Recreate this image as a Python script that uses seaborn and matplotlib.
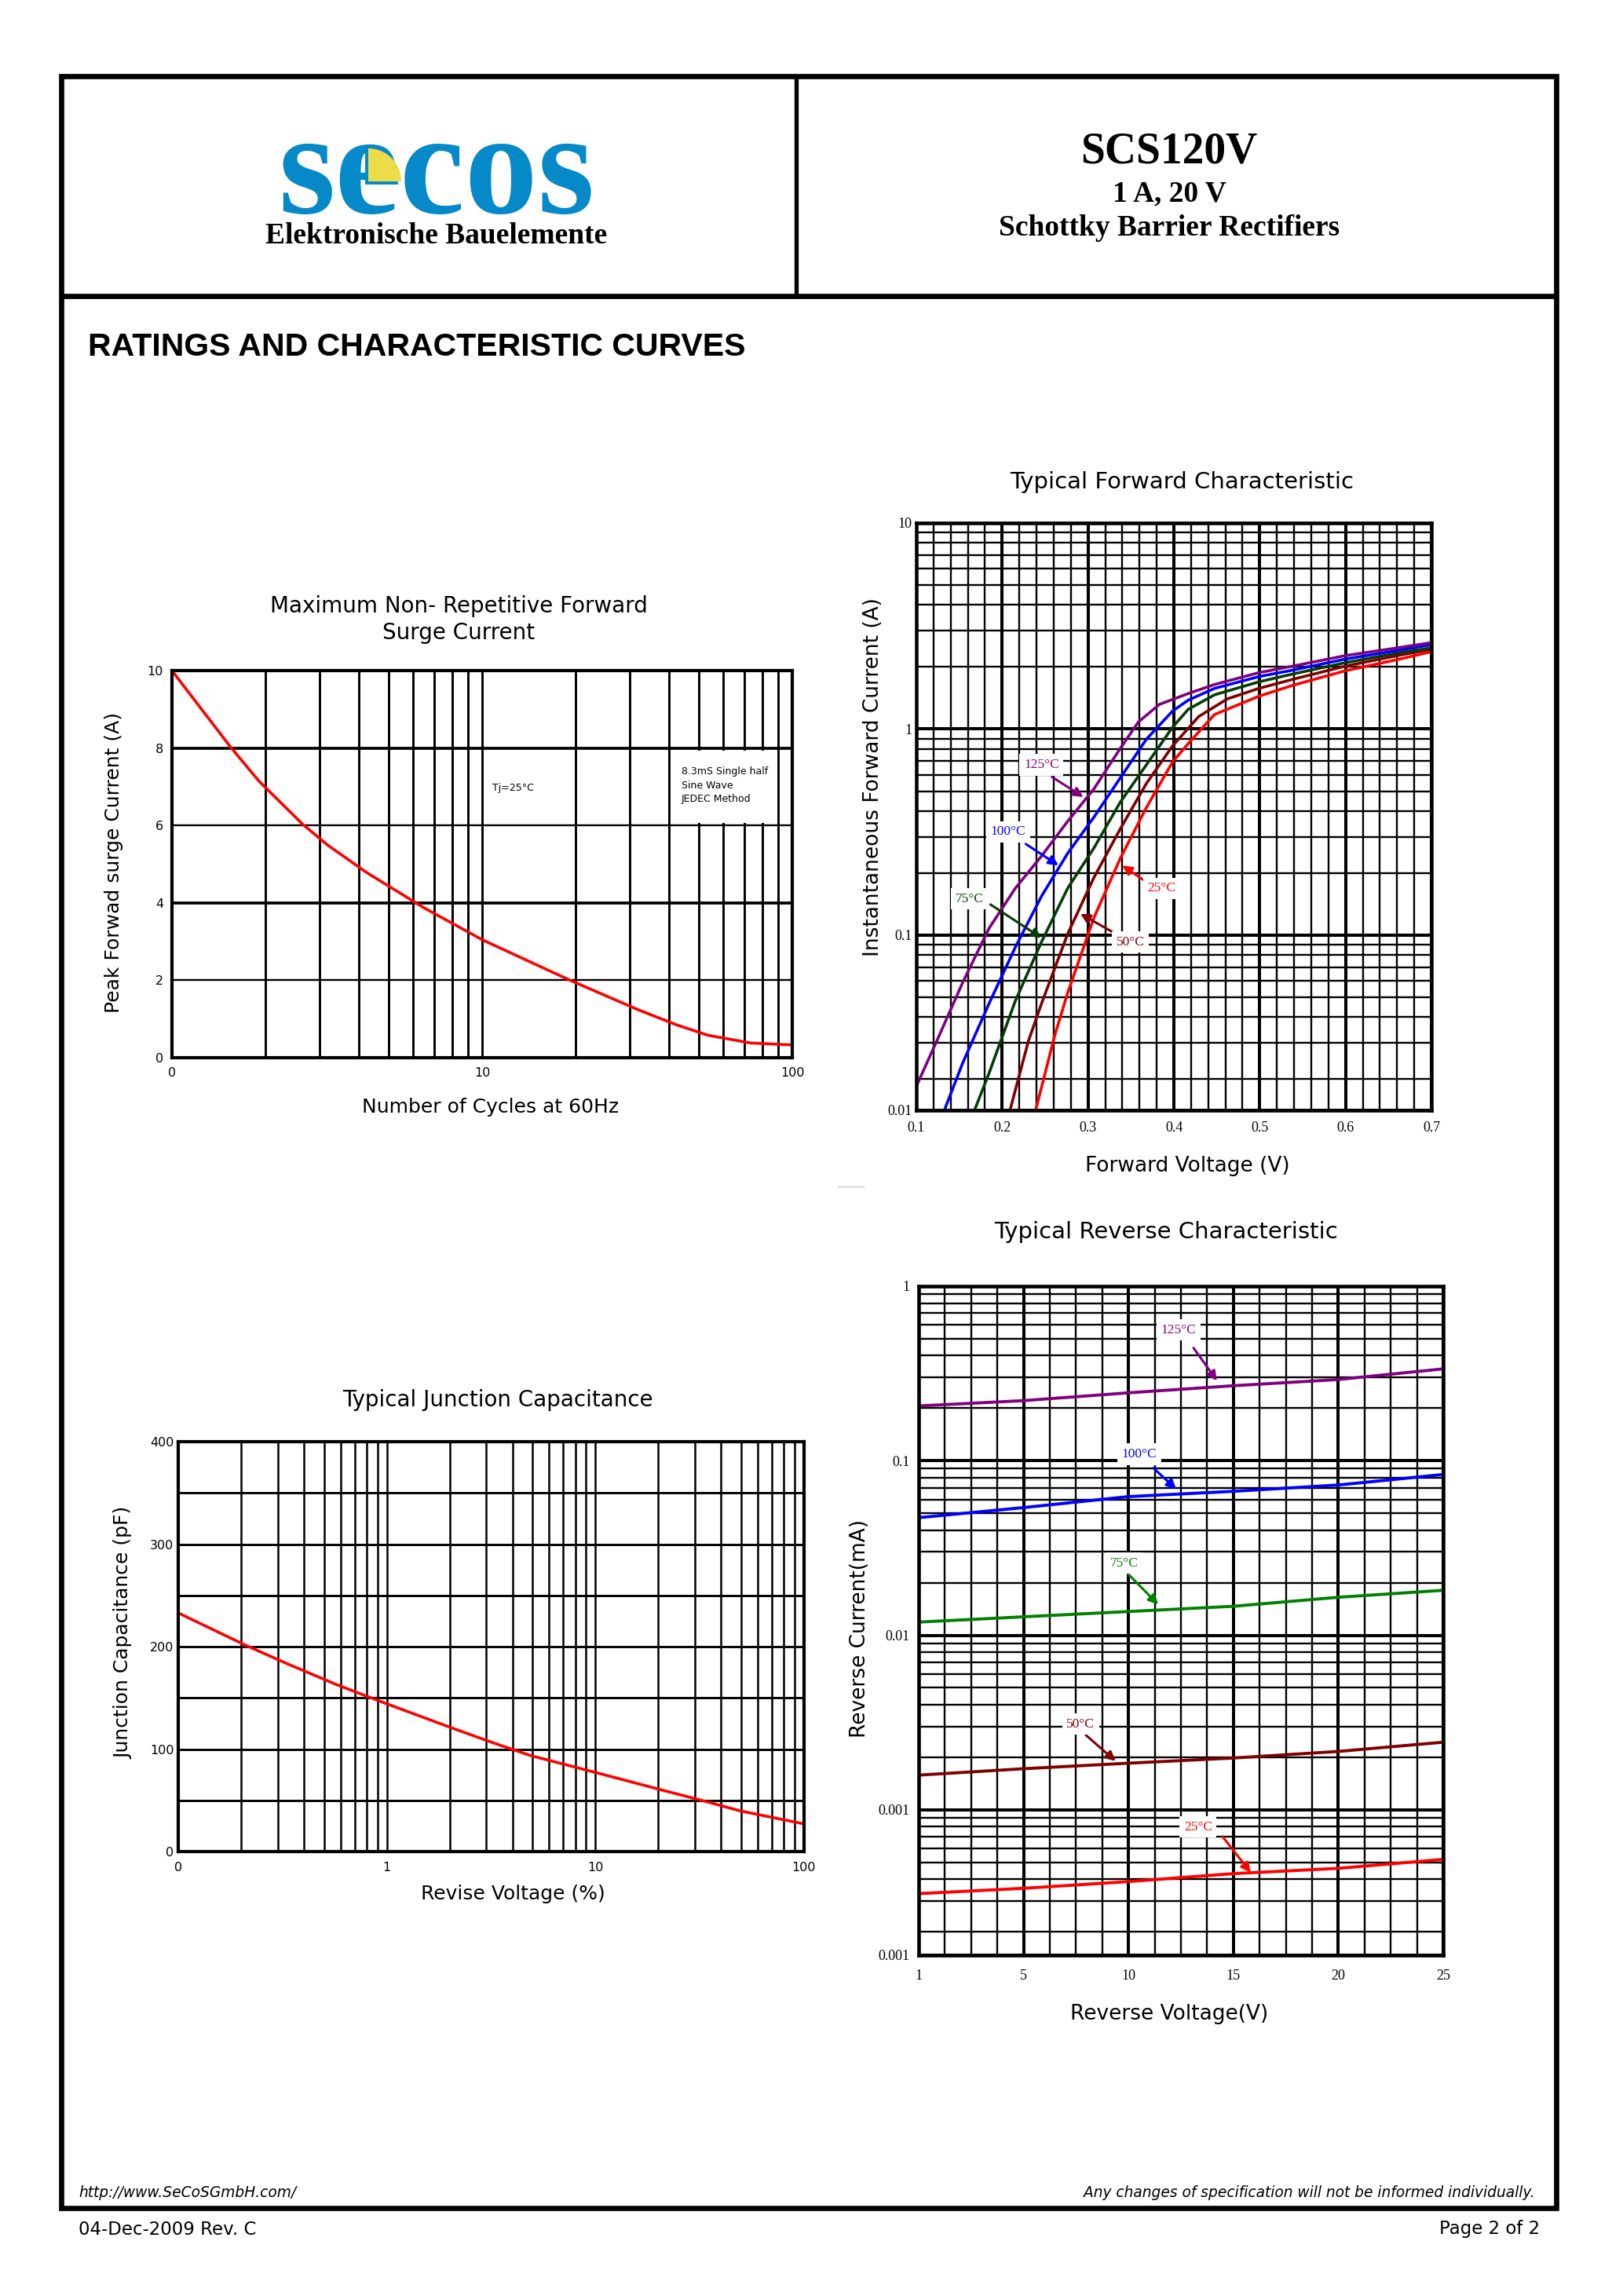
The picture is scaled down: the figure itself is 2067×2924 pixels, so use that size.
import numpy as np
import pandas as pd
import matplotlib
matplotlib.use("Agg")
import matplotlib.pyplot as plt
import seaborn as sns
from matplotlib.ticker import (FixedLocator, FixedFormatter, NullFormatter,
                               LogLocator, MultipleLocator)
from matplotlib.patches import Wedge, Rectangle

# ------------------------------------------------------------------ data
surge_cycles = [1.0, 1.23, 1.54, 1.91, 2.64, 3.18, 4.25, 6.47, 10.05, 19.1, 31.6, 42.3, 53.5, 73.4, 100.0]
surge_current = [10.0, 9.06, 8.04, 7.14, 6.03, 5.49, 4.78, 3.88, 3.04, 2.01, 1.25, 0.85, 0.58, 0.38, 0.33]
surge_xticks = [1, 10, 100]
surge_xtick_labels = ["0", "10", "100"]
surge_yticks = [0, 2, 4, 6, 8, 10]

cap_voltage = [0.1, 0.208, 0.333, 0.573, 0.99, 2.04, 3.28, 4.87, 10.1, 20.8, 33.8, 49.2, 100.0]
cap_pf = [232.9, 201.8, 183.3, 163.0, 144.5, 120.8, 105.7, 93.8, 77.0, 60.1, 48.9, 39.8, 27.0]
cap_xticks = [0.1, 1, 10, 100]
cap_xtick_labels = ["0", "1", "10", "100"]
cap_yticks = [0, 100, 200, 300, 400]

fwd_temps = ["25°C", "50°C", "75°C", "100°C", "125°C"]
fwd_v_125 = [0.1, 0.1237, 0.1542, 0.1847, 0.2153, 0.2458, 0.2763, 0.3069, 0.3374, 0.3588, 0.3832, 0.4165, 0.4473, 0.499, 0.5387, 0.5997, 0.6607, 0.7]
fwd_i_125 = [0.0185, 0.0306, 0.0592, 0.108, 0.169, 0.242, 0.357, 0.513, 0.804, 1.084, 1.318, 1.486, 1.645, 1.878, 2.021, 2.272, 2.479, 2.628]
fwd_v_100 = [0.1328, 0.1542, 0.1847, 0.2153, 0.2458, 0.2763, 0.3069, 0.3374, 0.3679, 0.3984, 0.4167, 0.4473, 0.499, 0.5387, 0.5997, 0.6607, 0.7]
fwd_i_100 = [0.0142, 0.0241, 0.0466, 0.0874, 0.1545, 0.2496, 0.374, 0.578, 0.892, 1.222, 1.381, 1.575, 1.797, 1.933, 2.186, 2.408, 2.567]
fwd_v_75 = [0.1679, 0.1847, 0.2153, 0.2458, 0.2763, 0.3069, 0.3374, 0.3679, 0.3984, 0.4167, 0.4473, 0.499, 0.5387, 0.5997, 0.6607, 0.7]
fwd_i_75 = [0.0142, 0.0214, 0.048, 0.0928, 0.169, 0.265, 0.441, 0.670, 1.02, 1.247, 1.466, 1.695, 1.851, 2.10, 2.337, 2.479]
fwd_v_50 = [0.2092, 0.2305, 0.2458, 0.2763, 0.3069, 0.3374, 0.3679, 0.3984, 0.429, 0.4624, 0.499, 0.5387, 0.5997, 0.6607, 0.7]
fwd_i_50 = [0.0142, 0.0306, 0.0466, 0.1015, 0.1905, 0.327, 0.544, 0.828, 1.151, 1.402, 1.575, 1.744, 2.021, 2.272, 2.442]
fwd_v_25 = [0.2391, 0.2611, 0.2763, 0.3069, 0.3374, 0.3679, 0.3984, 0.4167, 0.432, 0.4473, 0.499, 0.5387, 0.5997, 0.6607, 0.7]
fwd_i_25 = [0.0142, 0.0325, 0.0525, 0.1216, 0.235, 0.4155, 0.692, 0.85, 1.0, 1.176, 1.443, 1.631, 1.918, 2.175, 2.373]
fwd_xticks = [0.1, 0.2, 0.3, 0.4, 0.5, 0.6, 0.7]
fwd_xtick_labels = ["0.1", "0.2", "0.3", "0.4", "0.5", "0.6", "0.7"]
fwd_ybottom = 10 ** -1.8495
fwd_yticks = [fwd_ybottom, 0.1, 1, 10]
fwd_ytick_labels = ["0.01", "0.1", "1", "10"]

rev_temps = ["25°C", "50°C", "75°C", "100°C", "125°C"]
rev_v = [0, 5, 10, 15, 20, 25]
rev_i_125 = [0.206, 0.221, 0.245, 0.269, 0.292, 0.336]
rev_i_100 = [0.0472, 0.0539, 0.0623, 0.0668, 0.0726, 0.0834]
rev_i_75 = [0.0119, 0.01276, 0.01368, 0.01466, 0.01651, 0.0181]
rev_i_50 = [0.00158, 0.00172, 0.00185, 0.00198, 0.00216, 0.00244]
rev_i_25 = [0.000331, 0.000355, 0.000388, 0.000431, 0.000462, 0.00052]
rev_xticks = [0, 5, 10, 15, 20, 25]
rev_xtick_labels = ["1", "5", "10", "15", "20", "25"]
rev_ybottom = 10 ** -3.833
rev_yticks = [rev_ybottom, 0.001, 0.01, 0.1, 1]
rev_ytick_labels = ["0.001", "0.001", "0.01", "0.1", "1"]

# annotation label placements (data coords): text, tail, tip
fwd_notes = {
    "125°C": ((0.2458, 0.671), (0.258, 0.586), (0.2946, 0.468)),
    "100°C": ((0.2067, 0.317), (0.2275, 0.277), (0.2656, 0.218)),
    "75°C": ((0.1618, 0.150), (0.1863, 0.141), (0.2458, 0.097)),
    "50°C": ((0.3496, 0.0928), (0.3298, 0.103), (0.291, 0.127)),
    "25°C": ((0.3856, 0.169), (0.3694, 0.1795), (0.3398, 0.218)),
}
rev_notes = {
    "125°C": ((12.39, 0.562), (13.1, 0.443), (14.22, 0.287)),
    "100°C": ((10.52, 0.109), (11.19, 0.0908), (12.28, 0.0687)),
    "75°C": ((9.81, 0.0259), (9.99, 0.0224), (11.42, 0.0150)),
    "50°C": ((7.71, 0.0031), (7.97, 0.00268), (9.39, 0.0019)),
    "25°C": ((13.32, 0.000796), (14.48, 0.000703), (15.83, 0.000437)),
}

fwd_colors = {"125°C": "#800080", "100°C": "#0000FF", "75°C": "#053D05",
              "50°C": "#800000", "25°C": "#FF0000"}
rev_colors = {"125°C": "#800080", "100°C": "#0000FF", "75°C": "#008000",
              "50°C": "#800000", "25°C": "#FF0000"}

# ------------------------------------------------------------------ style
sns.set_theme(style="white")
plt.rcParams["font.family"] = ["DejaVu Sans"]
plt.rcParams["axes.edgecolor"] = "black"
plt.rcParams["text.color"] = "black"
plt.rcParams["axes.labelcolor"] = "black"
plt.rcParams["xtick.color"] = "black"
plt.rcParams["ytick.color"] = "black"

W, H = 2067, 2924
fig = plt.figure(figsize=(W / 100, H / 100), dpi=100)
fig.patch.set_facecolor("white")

SERIF = "Liberation Serif"


def frame(ax, lw=3.2):
    for s in ax.spines.values():
        s.set_visible(True)
        s.set_linewidth(lw)
        s.set_color("black")
        s.set_zorder(4)
    ax.set_facecolor("white")
    ax.set_axisbelow(True)
    ax.tick_params(which="both", length=0, colors="black")


def place_labels(ax, xlabel, xl, ylabel, yl, size):
    ax.set_xlabel(xlabel, fontsize=size, color="black")
    ax.set_ylabel(ylabel, fontsize=size, color="black")
    ax.xaxis.label.set_va("center")
    ax.yaxis.label.set_va("center")
    ax.xaxis.set_label_coords(*xl)
    ax.yaxis.set_label_coords(*yl)


def notes(ax, spec, colors):
    for name, (txt, tail, tip) in spec.items():
        ax.annotate("", xy=tip, xytext=tail,
                    arrowprops=dict(arrowstyle="-|>", color=colors[name], lw=2.2,
                                    mutation_scale=18, shrinkA=0, shrinkB=0),
                    zorder=6)
        ax.text(txt[0], txt[1], name, color=colors[name], fontsize=12.5, family=SERIF,
                ha="center", va="center", zorder=7,
                bbox=dict(fc="white", ec="none", pad=4))


# ------------------------------------------------------------------ chart 1: surge
ax1 = fig.add_axes([0.10595, 0.53933, 0.38220, 0.16860])
sns.lineplot(x=surge_cycles, y=surge_current, color="#FF0000", lw=2.6,
             estimator=None, sort=False, ax=ax1, zorder=3)
ax1.set_xscale("log")
ax1.set_xlim(1, 100)
ax1.set_ylim(0, 10)
ax1.xaxis.set_major_locator(FixedLocator(surge_xticks))
ax1.xaxis.set_major_formatter(FixedFormatter(surge_xtick_labels))
ax1.xaxis.set_minor_locator(LogLocator(base=10, subs=np.arange(2, 10), numticks=100))
ax1.xaxis.set_minor_formatter(NullFormatter())
ax1.yaxis.set_major_locator(FixedLocator(surge_yticks))
frame(ax1, 3.0)
ax1.grid(which="both", axis="x", color="black", lw=2.1)
ax1.grid(which="major", axis="y", color="black", lw=1.7)
for gl, v in zip(ax1.get_ygridlines(), surge_yticks):
    if v in (4, 8):
        gl.set_linewidth(2.7)
ax1.tick_params(axis="y", labelsize=11.5, pad=8)
ax1.tick_params(axis="x", labelsize=11.5, pad=9)
ax1.add_patch(Rectangle((41.5, 6.07), 47.5, 1.86, fc="white", ec="none", zorder=1))
ax1.text(12.6, 6.96, "Tj=25°C", fontsize=9, ha="center", va="center", zorder=5)
ax1.text(43.9, 7.03, "8.3mS Single half\nSine Wave\nJEDEC Method", fontsize=9,
         ha="left", va="center", linespacing=1.45, zorder=5)
place_labels(ax1, "Number of Cycles at 60Hz", (0.513, -0.128),
             "Peak Forwad surge Current (A)", (-0.094, 0.505), 18)
ax1.text(0.462, 1.132, "Maximum Non- Repetitive Forward\nSurge Current", transform=ax1.transAxes,
         ha="center", va="center", fontsize=20, linespacing=1.3)

# ------------------------------------------------------------------ chart 2: forward
fwd_df = pd.concat([
    pd.DataFrame({"V": fwd_v_25, "I": fwd_i_25, "T": "25°C"}),
    pd.DataFrame({"V": fwd_v_50, "I": fwd_i_50, "T": "50°C"}),
    pd.DataFrame({"V": fwd_v_75, "I": fwd_i_75, "T": "75°C"}),
    pd.DataFrame({"V": fwd_v_100, "I": fwd_i_100, "T": "100°C"}),
    pd.DataFrame({"V": fwd_v_125, "I": fwd_i_125, "T": "125°C"}),
], ignore_index=True)
ax2 = fig.add_axes([0.56459, 0.51642, 0.31737, 0.25581])
sns.lineplot(data=fwd_df, x="V", y="I", hue="T", hue_order=fwd_temps, palette=fwd_colors,
             lw=2.6, estimator=None, sort=False, legend=False, ax=ax2, zorder=3)
ax2.set_yscale("log")
ax2.set_xlim(0.1, 0.7)
ax2.set_ylim(fwd_ybottom, 10)
ax2.xaxis.set_major_locator(FixedLocator(fwd_xticks))
ax2.xaxis.set_major_formatter(FixedFormatter(fwd_xtick_labels))
ax2.xaxis.set_minor_locator(MultipleLocator(0.02))
ax2.yaxis.set_major_locator(FixedLocator(fwd_yticks))
ax2.yaxis.set_major_formatter(FixedFormatter(fwd_ytick_labels))
ax2.yaxis.set_minor_locator(LogLocator(base=10, subs=np.arange(2, 10), numticks=100))
ax2.yaxis.set_minor_formatter(NullFormatter())
frame(ax2, 3.3)
ax2.grid(which="major", color="black", lw=2.9)
ax2.grid(which="minor", color="black", lw=1.7)
ax2.tick_params(labelsize=13, labelfontfamily=SERIF)
ax2.tick_params(axis="y", pad=4)
ax2.tick_params(axis="x", pad=10)
notes(ax2, fwd_notes, fwd_colors)
place_labels(ax2, "Forward Voltage (V)", (0.527, -0.095),
             "Instantaneous Forward Current (A)", (-0.084, 0.567), 19)
ax2.text(0.515, 1.07, "Typical Forward Characteristic", transform=ax2.transAxes,
         ha="center", va="center", fontsize=21)

# ------------------------------------------------------------------ chart 3: capacitance
ax3 = fig.add_axes([0.10982, 0.19357, 0.38558, 0.17852])
sns.lineplot(x=cap_voltage, y=cap_pf, color="#FF0000", lw=2.6,
             estimator=None, sort=False, ax=ax3, zorder=3)
ax3.set_xscale("log")
ax3.set_xlim(0.1, 100)
ax3.set_ylim(0, 400)
ax3.xaxis.set_major_locator(FixedLocator(cap_xticks))
ax3.xaxis.set_major_formatter(FixedFormatter(cap_xtick_labels))
ax3.xaxis.set_minor_locator(LogLocator(base=10, subs=np.arange(2, 10), numticks=100))
ax3.xaxis.set_minor_formatter(NullFormatter())
ax3.yaxis.set_major_locator(FixedLocator(cap_yticks))
ax3.yaxis.set_minor_locator(MultipleLocator(50))
frame(ax3, 3.0)
ax3.grid(which="both", axis="x", color="black", lw=1.8)
ax3.grid(which="both", axis="y", color="black", lw=2.1)
ax3.tick_params(axis="y", labelsize=11.5, pad=4)
ax3.tick_params(axis="x", labelsize=11.5, pad=9)
place_labels(ax3, "Revise Voltage (%)", (0.535, -0.103),
             "Junction Capacitance (pF)", (-0.088, 0.533), 18)
ax3.text(0.511, 1.102, "Typical Junction Capacitance", transform=ax3.transAxes,
         ha="center", va="center", fontsize=20)

# ------------------------------------------------------------------ chart 4: reverse
rev_df = pd.concat([
    pd.DataFrame({"V": rev_v, "I": rev_i_25, "T": "25°C"}),
    pd.DataFrame({"V": rev_v, "I": rev_i_50, "T": "50°C"}),
    pd.DataFrame({"V": rev_v, "I": rev_i_75, "T": "75°C"}),
    pd.DataFrame({"V": rev_v, "I": rev_i_100, "T": "100°C"}),
    pd.DataFrame({"V": rev_v, "I": rev_i_125, "T": "125°C"}),
], ignore_index=True)
ax4 = fig.add_axes([0.56604, 0.14843, 0.32317, 0.29138])
sns.lineplot(data=rev_df, x="V", y="I", hue="T", hue_order=rev_temps, palette=rev_colors,
             lw=2.8, estimator=None, sort=False, legend=False, ax=ax4, zorder=3)
ax4.set_yscale("log")
ax4.set_xlim(0, 25)
ax4.set_ylim(rev_ybottom, 1)
ax4.xaxis.set_major_locator(FixedLocator(rev_xticks))
ax4.xaxis.set_major_formatter(FixedFormatter(rev_xtick_labels))
ax4.xaxis.set_minor_locator(MultipleLocator(1.25))
ax4.yaxis.set_major_locator(FixedLocator(rev_yticks))
ax4.yaxis.set_major_formatter(FixedFormatter(rev_ytick_labels))
ax4.yaxis.set_minor_locator(LogLocator(base=10, subs=np.arange(2, 10), numticks=100))
ax4.yaxis.set_minor_formatter(NullFormatter())
frame(ax4, 3.3)
ax4.grid(which="major", color="black", lw=2.9)
ax4.grid(which="minor", color="black", lw=1.7)
ax4.tick_params(labelsize=13, labelfontfamily=SERIF)
ax4.tick_params(axis="y", pad=8)
ax4.tick_params(axis="x", pad=13)
notes(ax4, rev_notes, rev_colors)
place_labels(ax4, "Reverse Voltage(V)", (0.478, -0.088),
             "Reverse Current(mA)", (-0.112, 0.488), 19)
ax4.text(0.472, 1.081, "Typical Reverse Characteristic", transform=ax4.transAxes,
         ha="center", va="center", fontsize=21)

# ------------------------------------------------------------------ page furniture
page = fig.add_axes([0, 0, 1, 1], zorder=-1)
page.set_xlim(0, W)
page.set_ylim(H, 0)
page.axis("off")
page.patch.set_alpha(0)
FLW = 4.8
page.add_patch(Rectangle((78, 97), 1904, 2715, fill=False, ec="black", lw=FLW))
page.hlines(377, 78, 1982, color="black", lw=FLW)
page.vlines(1014, 97, 377, color="black", lw=FLW * 0.8)
page.hlines(1511, 1067, 1101, color="#C8C8C8", lw=1)

# logo
logo_blue = "#0689C9"
page.add_patch(Wedge((465, 235), 42, 270, 360, fc=logo_blue, ec="none", zorder=3))
page.text(556, 271, "secos", fontsize=134, family=SERIF, weight="bold", color=logo_blue,
          ha="center", va="baseline", zorder=2)
page.add_patch(Wedge((469, 231), 42, 270, 360, fc="#ECDC48", ec="none", zorder=4))
page.text(556, 301, "Elektronische Bauelemente", fontsize=27, family=SERIF, weight="bold",
          ha="center", va="center", zorder=5)

page.text(1489, 194, "SCS120V", fontsize=40, family=SERIF, weight="bold", ha="center", va="center")
page.text(1489, 247, "1 A, 20 V", fontsize=27, family=SERIF, weight="bold", ha="center", va="center")
page.text(1489, 291, "Schottky Barrier Rectifiers", fontsize=27, family=SERIF, weight="bold",
          ha="center", va="center")

page.text(112, 442, "RATINGS AND CHARACTERISTIC CURVES", fontsize=29.5, family="Liberation Sans",
          weight="bold", ha="left", va="center")

page.text(100, 2793, "http://www.SeCoSGmbH.com/", fontsize=13.4, style="italic",
          ha="left", va="center")
page.text(1955, 2793, "Any changes of specification will not be informed individually.",
          fontsize=13.4, style="italic", ha="right", va="center")
page.text(100, 2839, "04-Dec-2009 Rev. C", fontsize=16.5, ha="left", va="center")
page.text(1961, 2839, "Page 2 of 2", fontsize=16.5, ha="right", va="center")

fig.savefig("out.png", dpi=100, facecolor="white")
